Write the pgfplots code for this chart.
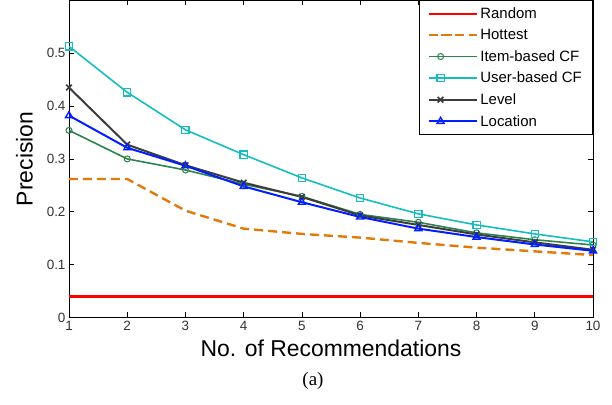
\documentclass[border=0pt]{standalone}
\usepackage{pgfplots}
\pgfplotsset{compat=1.18}
\usepackage{fontspec}
\setmainfont{Liberation Sans}
\newfontfamily\seriffont{Liberation Serif}
\definecolor{cRand}{RGB}{255,0,0}
\definecolor{cHot}{RGB}{226,122,10}
\definecolor{cItem}{RGB}{46,130,80}
\definecolor{cUser}{RGB}{20,190,190}
\definecolor{cLevel}{RGB}{60,60,60}
\definecolor{cLoc}{RGB}{0,30,255}
\begin{document}
\begin{tikzpicture}[x=1bp,y=1bp]
\begin{axis}[
  at={(0,0)}, anchor=south west,
  scale only axis, width=524bp, height=317bp,
  xmin=1, xmax=10, ymin=0, ymax=0.6,
  xtick={1,...,10},
  ytick={0,0.1,0.2,0.3,0.4,0.5},
  yticklabels={0,0.1,0.2,0.3,0.4,0.5},
  tick align=inside, major tick length=5bp,
  tick style={black, line width=0.6pt},
  axis line style={black, line width=0.8pt},
  ticklabel style={font=\fontsize{13.5}{15}\selectfont, text=black!80},
  /pgf/number format/assume math mode=true,
  xlabel={No. of Recommendations},
  ylabel={Precision},
  label style={font=\fontsize{23}{26}\selectfont},
  xlabel style={yshift=-3bp},
  ylabel style={yshift=7bp},
  legend style={at={(1,1)}, anchor=north east, draw=black, line width=0.6pt,
    fill=white, font=\fontsize{15}{17}\selectfont, row sep=5.3bp,
    inner xsep=9bp, inner ysep=5bp, legend cell align=left},
  legend image code/.code={\draw[#1] (0bp,0bp) -- (23bp,0bp) plot coordinates {(11.5bp,0bp)} -- (48bp,0bp);},
]
\addplot[cRand, line width=2.6pt, no marks] coordinates {(1,0.04) (10,0.04)};
\addlegendentry{Random}
\addplot[cHot, line width=2.4pt, dash pattern=on 9bp off 5bp, no marks] coordinates {
(1,0.262) (2,0.262) (3,0.202) (4,0.168) (5,0.158) (6,0.151) (7,0.141) (8,0.132) (9,0.125) (10,0.118)};
\addlegendentry{Hottest}
\addplot[cItem, line width=1.6pt, mark=o, mark size=3bp, mark options={line width=1pt, solid}] coordinates {
(1,0.354) (2,0.300) (3,0.279) (4,0.252) (5,0.229) (6,0.195) (7,0.180) (8,0.160) (9,0.147) (10,0.137)};
\addlegendentry{Item-based CF}
\addplot[cUser, line width=1.6pt, mark=square, mark size=3.6bp, mark options={line width=1.2pt, solid}] coordinates {
(1,0.513) (2,0.426) (3,0.355) (4,0.308) (5,0.264) (6,0.226) (7,0.196) (8,0.175) (9,0.158) (10,0.143)};
\addlegendentry{User-based CF}
\addplot[cLevel, line width=2pt, mark=x, mark size=4bp, mark options={line width=1.6pt, solid}] coordinates {
(1,0.435) (2,0.327) (3,0.288) (4,0.255) (5,0.228) (6,0.193) (7,0.175) (8,0.157) (9,0.142) (10,0.128)};
\addlegendentry{Level}
\addplot[cLoc, line width=2pt, mark=triangle, mark size=4bp, mark options={line width=1.4pt, solid}] coordinates {
(1,0.382) (2,0.321) (3,0.287) (4,0.248) (5,0.218) (6,0.190) (7,0.168) (8,0.152) (9,0.138) (10,0.126)};
\addlegendentry{Location}
\end{axis}
\node[font=\seriffont\fontsize{19}{21}\selectfont] at (244bp,-64bp) {(a)};
\useasboundingbox (-69bp,-87bp) rectangle (543bp,317bp);
\end{tikzpicture}
\end{document}
